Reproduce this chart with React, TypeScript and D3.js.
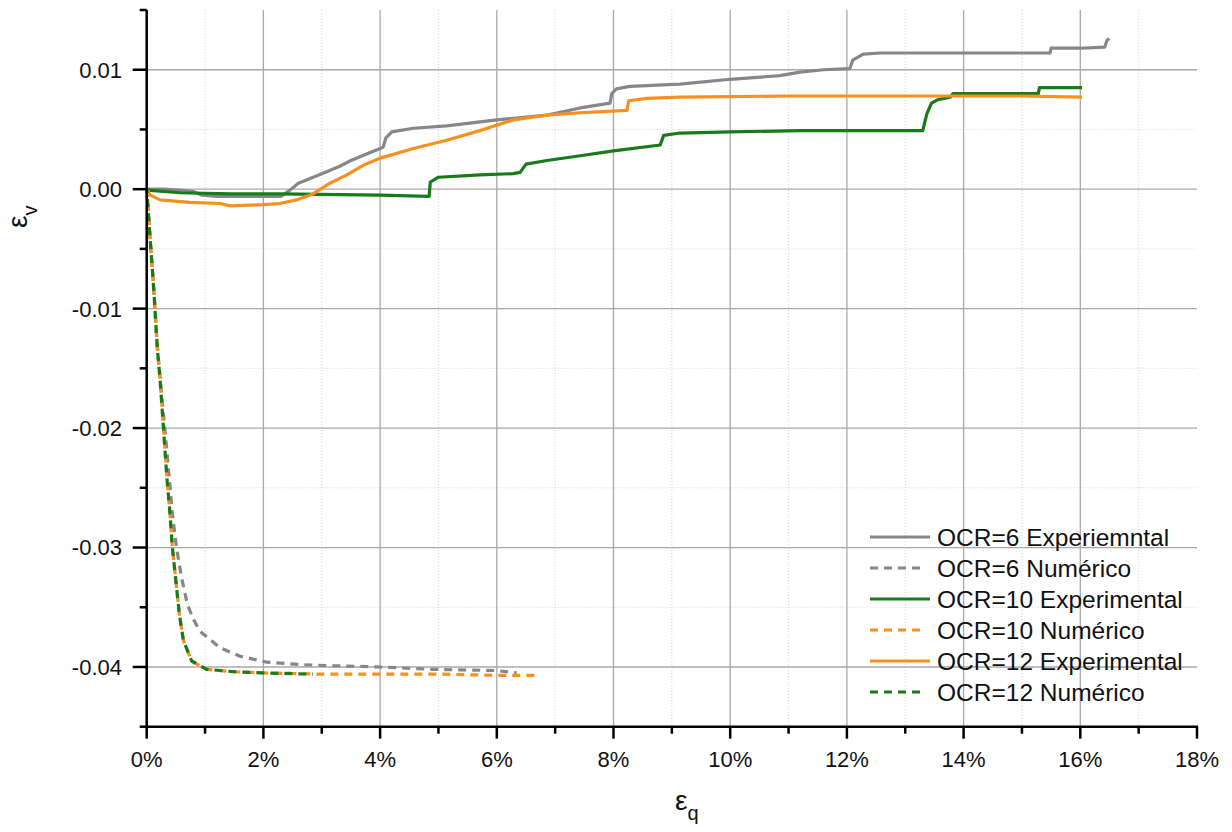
import React from 'react';
import * as d3 from 'd3';

// x values in percent, y values as strain
const ocr6Exp: [number, number][] = [
  [0, 0], [0.3, 0.0], [0.6, -0.0001], [0.8, -0.0002], [0.95, -0.0005], [1.2, -0.0006], [1.6, -0.0006],
  [2.0, -0.0006], [2.3, -0.0006], [2.45, -0.0001], [2.6, 0.0005], [2.8, 0.0009], [3.0, 0.0013],
  [3.3, 0.0019], [3.5, 0.0024], [3.8, 0.003], [4.0, 0.0034], [4.05, 0.0035], [4.1, 0.0043],
  [4.2, 0.0048], [4.57, 0.0051], [5.14, 0.0053], [6.0, 0.0058], [6.86, 0.0062], [7.43, 0.0068],
  [7.94, 0.0072], [7.97, 0.008], [8.05, 0.0084], [8.28, 0.0086], [9.14, 0.0088], [10.0, 0.0092],
  [10.85, 0.0095], [11.2, 0.0098], [11.6, 0.01], [12.05, 0.0101], [12.1, 0.0108], [12.28, 0.0113],
  [12.57, 0.0114], [15.48, 0.0114], [15.5, 0.0118], [16.0, 0.0118], [16.42, 0.0119],
  [16.46, 0.0125], [16.5, 0.0126],
];
const ocr6Num: [number, number][] = [
  [0, 0], [0.03, -0.002], [0.07, -0.005], [0.11, -0.0076], [0.14, -0.0099], [0.18, -0.013],
  [0.23, -0.0158], [0.28, -0.0185], [0.34, -0.0216], [0.39, -0.0244], [0.44, -0.0272],
  [0.51, -0.03], [0.6, -0.0326], [0.7, -0.0348], [0.8, -0.036], [0.91, -0.037], [1.26, -0.0384],
  [1.6, -0.0391], [2.06, -0.0396], [2.63, -0.0398], [3.2, -0.0399], [4.0, -0.04], [4.9, -0.0402],
  [6.0, -0.0403], [6.34, -0.0405],
];
const ocr10Exp: [number, number][] = [
  [0, 0], [0.06, -0.0001], [0.57, -0.0003], [1.43, -0.0004], [2.28, -0.0004], [4.0, -0.0005],
  [4.84, -0.0006], [4.86, 0.0006], [5.0, 0.001], [5.71, 0.0012], [6.28, 0.0013], [6.4, 0.0014],
  [6.5, 0.0021], [6.86, 0.0024], [7.43, 0.0028], [8.0, 0.0032], [8.8, 0.0037], [8.86, 0.0045],
  [9.14, 0.0047], [10.0, 0.0048], [11.2, 0.0049], [13.3, 0.0049], [13.33, 0.0055],
  [13.37, 0.0063], [13.45, 0.0072], [13.56, 0.0075], [13.77, 0.0077], [13.82, 0.008],
  [15.28, 0.008], [15.3, 0.0085], [16.03, 0.0085],
];
const ocr10Num: [number, number][] = [
  [0, 0], [0.03, -0.0021], [0.07, -0.0049], [0.11, -0.0076], [0.14, -0.0099], [0.18, -0.0132],
  [0.23, -0.016], [0.27, -0.0188], [0.31, -0.0216], [0.35, -0.0244], [0.4, -0.0272],
  [0.44, -0.03], [0.5, -0.0328], [0.56, -0.0356], [0.63, -0.0378], [0.77, -0.0395],
  [1.03, -0.0402], [1.5, -0.0404], [2.0, -0.0405], [3.0, -0.0406], [5.0, -0.0406],
  [6.0, -0.0407], [6.69, -0.0407],
];
const ocr12Exp: [number, number][] = [
  [0, 0], [0.06, -0.0005], [0.23, -0.0009], [0.74, -0.0011], [1.26, -0.0012], [1.43, -0.0014],
  [2.0, -0.0013], [2.28, -0.0012], [2.57, -0.0009], [2.85, -0.0004], [3.14, 0.0005],
  [3.43, 0.0012], [3.71, 0.002], [4.0, 0.0026], [4.57, 0.0034], [5.14, 0.0041], [5.71, 0.0049],
  [6.28, 0.0058], [6.86, 0.0062], [7.43, 0.0064], [8.23, 0.0066], [8.26, 0.0074],
  [8.57, 0.0076], [9.14, 0.0077], [11.0, 0.0078], [15.0, 0.0078], [16.03, 0.0077],
];
const ocr12Num: [number, number][] = [
  [0, 0], [0.03, -0.0021], [0.07, -0.0049], [0.11, -0.0076], [0.14, -0.0099], [0.18, -0.0132],
  [0.23, -0.016], [0.27, -0.0188], [0.31, -0.0216], [0.35, -0.0244], [0.4, -0.0272],
  [0.44, -0.03], [0.5, -0.0328], [0.56, -0.0356], [0.63, -0.0378], [0.77, -0.0395],
  [1.03, -0.0402], [1.5, -0.0404], [2.0, -0.0405], [2.85, -0.0406],
];

const seriesNames = [
  'OCR=6 Experiemntal', 'OCR=6 Numérico', 'OCR=10 Experimental',
  'OCR=10 Numérico', 'OCR=12 Experimental', 'OCR=12 Numérico',
];
const seriesData = [ocr6Exp, ocr6Num, ocr10Exp, ocr10Num, ocr12Exp, ocr12Num];
const seriesColors = ['#878787', '#878787', '#197a19', '#f7901e', '#f7901e', '#197a19'];
const seriesDashed = [false, true, false, true, false, true];
const seriesDashOffset = [0, 0, 0, 0, 0, 4];

const xMajorTicks = [0, 2, 4, 6, 8, 10, 12, 14, 16, 18];
const xMinorTicks = [1, 3, 5, 7, 9, 11, 13, 15, 17];
const yMajorTicks = [-0.04, -0.03, -0.02, -0.01, 0, 0.01];
const yMinorTicks = [-0.045, -0.035, -0.025, -0.015, -0.005, 0.005, 0.015];

const FONT = '"Liberation Sans", Arial, sans-serif';

export default function App() {
  const x = d3.scaleLinear().domain([0, 18]).range([146.7, 1197]);
  const y = d3.scaleLinear().domain([-0.045, 0.015]).range([726.7, 10]);
  const line = d3.line<[number, number]>().x(d => x(d[0])).y(d => y(d[1]));
  const [x0, x1] = x.range();
  const [yb, yt] = y.range();

  return (
    <svg width={1232} height={832} style={{ position: 'absolute', left: 0, top: 0, background: '#fff' }}
      fontFamily={FONT}>
      {/* minor grid */}
      {xMinorTicks.map(t => (
        <line key={'xm' + t} x1={x(t)} x2={x(t)} y1={yt} y2={yb} stroke="#d4d4d4" strokeWidth={1} strokeDasharray="1 2" />
      ))}
      {yMinorTicks.filter(t => t > -0.045 && t < 0.015).map(t => (
        <line key={'ym' + t} x1={x0} x2={x1} y1={y(t)} y2={y(t)} stroke="#d4d4d4" strokeWidth={1} strokeDasharray="1 2" />
      ))}
      {/* major grid */}
      {xMajorTicks.filter(t => t > 0 && t < 18).map(t => (
        <line key={'xg' + t} x1={x(t)} x2={x(t)} y1={yt} y2={yb} stroke="#a8a8a8" strokeWidth={1.3} />
      ))}
      {yMajorTicks.map(t => (
        <line key={'yg' + t} x1={x0} x2={x1} y1={y(t)} y2={y(t)} stroke="#a8a8a8" strokeWidth={1.3} />
      ))}

      {/* series */}
      {seriesData.map((d, i) => (
        <path key={'s' + i} d={line(d) || ''} fill="none" stroke={seriesColors[i]}
          strokeWidth={3.2} strokeDasharray={seriesDashed[i] ? '8 6' : undefined}
          strokeDashoffset={seriesDashOffset[i]} strokeLinejoin="round" />
      ))}

      {/* axes */}
      <line x1={x0} x2={x0} y1={yt} y2={yb + 1} stroke="#000" strokeWidth={2.5} />
      <line x1={x0 - 1} x2={x1 + 1} y1={yb} y2={yb} stroke="#000" strokeWidth={2.5} />
      {yMajorTicks.map(t => (
        <g key={'yt' + t}>
          <line x1={x0 - 14} x2={x0} y1={y(t)} y2={y(t)} stroke="#000" strokeWidth={2.5} />
          <text x={122} y={y(t)} dy="0.36em" textAnchor="end" fontSize={22} fill="#111">{t.toFixed(2)}</text>
        </g>
      ))}
      {yMinorTicks.map(t => (
        <line key={'ymt' + t} x1={x0 - 7} x2={x0} y1={y(t)} y2={y(t)} stroke="#000" strokeWidth={2.5} />
      ))}
      {xMajorTicks.map(t => (
        <g key={'xt' + t}>
          <line x1={x(t)} x2={x(t)} y1={yb} y2={yb + 12} stroke="#000" strokeWidth={2.5} />
          <text x={x(t)} y={767} textAnchor="middle" fontSize={22} fill="#111">{t + '%'}</text>
        </g>
      ))}
      {xMinorTicks.map(t => (
        <line key={'xmt' + t} x1={x(t)} x2={x(t)} y1={yb} y2={yb + 7} stroke="#000" strokeWidth={2.5} />
      ))}

      {/* axis titles */}
      <text x={675} y={810} fontSize={28} fill="#111">
        ε<tspan fontSize={20} dy={10}>q</tspan>
      </text>
      <text transform="translate(27,228) rotate(-90)" fontSize={28} fill="#111">
        ε<tspan fontSize={20} dy={10}>v</tspan>
      </text>

      {/* legend */}
      {seriesNames.map((n, i) => {
        const cy = 537 + i * 31;
        return (
          <g key={'lg' + i}>
            <line x1={870} x2={seriesDashed[i] ? 922 : 930} y1={cy} y2={cy} stroke={seriesColors[i]}
              strokeWidth={3} strokeDasharray={seriesDashed[i] ? '8 6' : undefined} />
            <text x={937} y={cy} dy="0.36em" fontSize={24.5} fill="#111">{n}</text>
          </g>
        );
      })}
    </svg>
  );
}
